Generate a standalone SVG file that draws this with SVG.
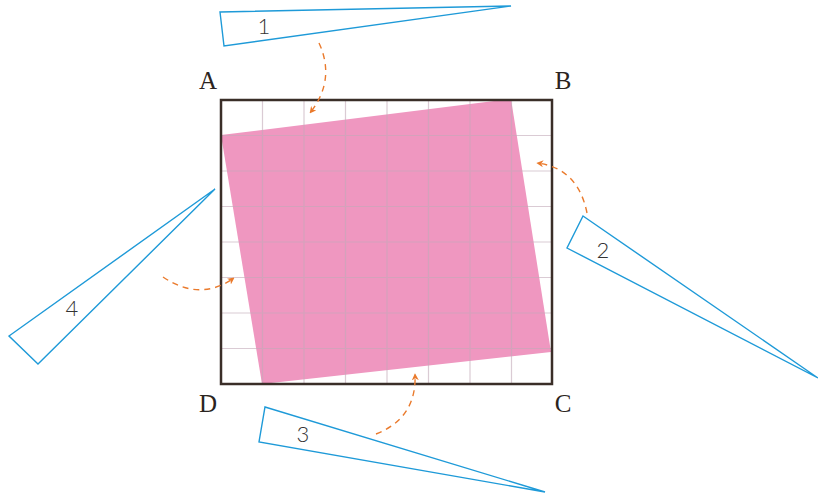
<svg xmlns="http://www.w3.org/2000/svg" width="818" height="498" viewBox="0 0 818 498">
<defs>
<style>
.tri{fill:#fff;stroke:#1e9ad8;stroke-width:1.4;stroke-linejoin:miter}
.grid{stroke:#c3aab9;stroke-width:1.2;opacity:0.6}
.arr{fill:none;stroke:#ea7a2c;stroke-width:1.4;stroke-dasharray:6 5}
.corner{font-family:"Liberation Serif",serif;font-size:25px;fill:#2b2420;text-anchor:middle}
.num{font-family:Lato,"Liberation Sans",sans-serif;font-weight:300;font-size:22px;fill:#333;text-anchor:middle}
</style>
<marker id="ah" viewBox="0 0 10 10" refX="9" refY="5" markerWidth="7" markerHeight="7" orient="auto" markerUnits="userSpaceOnUse">
<path d="M0,0 L10,5 L0,10 L3,5 Z" fill="#ea7a2c"/>
</marker>
</defs>
<rect width="818" height="498" fill="#fff"/>
<g id="square">
<rect x="221" y="100" width="331" height="284" fill="#fff"/>
<polygon points="221,135 511,99 551,352 262,384" fill="#ef97c0"/>
<g class="grid">
<line x1="262.5" y1="100" x2="262.5" y2="384"/>
<line x1="304" y1="100" x2="304" y2="384"/>
<line x1="345.5" y1="100" x2="345.5" y2="384"/>
<line x1="387" y1="100" x2="387" y2="384"/>
<line x1="428.5" y1="100" x2="428.5" y2="384"/>
<line x1="470" y1="100" x2="470" y2="384"/>
<line x1="511.5" y1="100" x2="511.5" y2="384"/>
<line x1="221" y1="135.5" x2="552" y2="135.5"/>
<line x1="221" y1="171" x2="552" y2="171"/>
<line x1="221" y1="206.5" x2="552" y2="206.5"/>
<line x1="221" y1="242" x2="552" y2="242"/>
<line x1="221" y1="277.5" x2="552" y2="277.5"/>
<line x1="221" y1="313" x2="552" y2="313"/>
<line x1="221" y1="348.5" x2="552" y2="348.5"/>
</g>
<rect x="221" y="100" width="331" height="284" fill="none" stroke="#3a2e28" stroke-width="2.5"/>
</g>
<g id="labelA"><text class="corner" x="208" y="89">A</text></g>
<g id="labelB"><text class="corner" x="563" y="89">B</text></g>
<g id="labelC"><text class="corner" x="563" y="412">C</text></g>
<g id="labelD"><text class="corner" x="208" y="412">D</text></g>
<g id="piece1">
<polygon class="tri" points="220,12 511,6 224,46"/>
<text class="num" x="264" y="34">1</text>
</g>
<g id="piece2">
<polygon class="tri" points="583,216 818,378 567,248"/>
<text class="num" x="603" y="258">2</text>
</g>
<g id="piece3">
<polygon class="tri" points="265,407 545,492 259,442"/>
<text class="num" x="303" y="442">3</text>
</g>
<g id="piece4">
<polygon class="tri" points="215,189 38,364 9,336"/>
<text class="num" x="72" y="316">4</text>
</g>
<g id="connectors">
<path class="arr" d="M319,43 Q336,80 310,113" marker-end="url(#ah)"/>
<path class="arr" d="M587,213 Q578,168 537,163" marker-end="url(#ah)"/>
<path class="arr" d="M163,277 Q200,302 234,278" marker-end="url(#ah)"/>
<path class="arr" d="M376,434 Q417,418 415,374" marker-end="url(#ah)"/>
</g>
</svg>
